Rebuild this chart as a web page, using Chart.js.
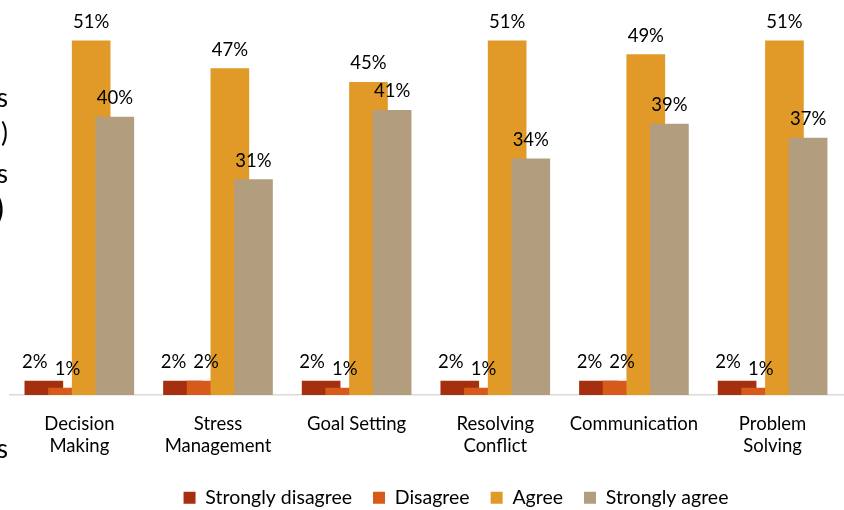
<!DOCTYPE html>
<html>
<head>
<meta charset="utf-8">
<script src="https://cdn.jsdelivr.net/npm/chart.js@4/dist/chart.umd.min.js"></script>
<style>
  html, body { margin: 0; padding: 0; background: #fff; }
  #wrap { width: 844px; height: 510px; }
</style>
</head>
<body>
<div id="wrap"><canvas id="skillsChart"></canvas></div>
<script>
const categories = [
  ["Decision", "Making"],
  ["Stress", "Management"],
  ["Goal Setting"],
  ["Resolving", "Conflict"],
  ["Communication"],
  ["Problem", "Solving"]
]
const seriesNames = ["Strongly disagree", "Disagree", "Agree", "Strongly agree"]
const stronglyDisagree = [2, 2, 2, 2, 2, 2]
const disagree = [1, 2, 1, 1, 2, 1]
const agree = [51, 47, 45, 51, 49, 51]
const stronglyAgree = [40, 31, 41, 34, 39, 37]

const colors = ["#a5300f", "#d65a19", "#e19a28", "#b29d7e"]
// bars overlap inside each group, so they sit on a linear axis with a fixed shift
const shifts = [-0.256, -0.0855, 0.0855, 0.256]
const labelShift = [-9, 0, 0, 0]
const FONT = "Lato, 'Open Sans', sans-serif"

const seriesValues = [stronglyDisagree, disagree, agree, stronglyAgree]

const datasets = seriesValues.map((values, k) => ({
  label: seriesNames[k],
  data: values.map((v, i) => ({ x: i + shifts[k], y: v })),
  backgroundColor: colors[k],
  borderWidth: 0,
  barThickness: 38,
  grouped: false,
  // later series are painted over the earlier ones
  order: seriesValues.length - k
}))

// percentage above each bar
const valueLabels = {
  id: "valueLabels",
  afterDatasetsDraw(chart) {
    const ctx = chart.ctx
    ctx.save()
    ctx.font = "18.5px " + FONT
    ctx.fillStyle = "#000"
    ctx.textAlign = "center"
    ctx.textBaseline = "alphabetic"
    chart.data.datasets.forEach((ds, k) => {
      chart.getDatasetMeta(k).data.forEach((bar, i) => {
        ctx.fillText(seriesValues[k][i] + "%", bar.x + labelShift[k], bar.y - 13)
      })
    })
    ctx.restore()
  }
}

// text running in from the left margin
const edgeText = {
  id: "edgeText",
  afterDraw(chart) {
    const ctx = chart.ctx
    ctx.save()
    ctx.fillStyle = "#000"
    ctx.textAlign = "right"
    ctx.font = "26px " + FONT
    ctx.fillText("s", 8, 99)
    ctx.fillText(")", 8, 134)
    ctx.fillText("s", 8, 175)
    ctx.font = "32px " + FONT
    ctx.fillText(")", 4, 210)
    ctx.font = "26px " + FONT
    ctx.fillText("s", 8, 450)
    ctx.restore()
  }
}

// legend row sits a little right of centre
const legendShift = {
  id: "legendShift",
  afterUpdate(chart) {
    chart.legend.left += 29
    chart.legend.right += 29
  }
}

new Chart(document.getElementById("skillsChart"), {
  type: "bar",
  data: { datasets },
  plugins: [valueLabels, edgeText, legendShift],
  options: {
    responsive: true,
    maintainAspectRatio: false,
    animation: false,
    layout: { padding: { top: 13, left: 10, right: 0, bottom: 0 } },
    plugins: {
      legend: {
        position: "bottom",
        maxHeight: 43,
        labels: {
          boxWidth: 12,
          boxHeight: 12,
          padding: 21,
          color: "#000",
          font: { family: FONT, size: 19.5 },
          generateLabels: chart => Chart.defaults.plugins.legend.labels.generateLabels(chart)
            .sort((a, b) => a.datasetIndex - b.datasetIndex)
        }
      },
      tooltip: { enabled: false }
    },
    scales: {
      x: {
        type: "linear",
        offset: false,
        min: -0.5,
        max: 5.515,
        afterBuildTicks: axis => {
          axis.ticks = categories.map((c, i) => ({ value: i }))
        },
        afterFit: axis => {
          axis.height = 72
        },
        grid: { display: false, drawTicks: false },
        border: { display: true, color: "#d9d9d9", width: 1.5 },
        ticks: {
          padding: 18,
          color: "#000",
          font: { family: FONT, size: 18.5, lineHeight: 1.2 },
          maxRotation: 0,
          autoSkip: false,
          callback: value => categories[value] || ""
        }
      },
      y: {
        display: false,
        min: 0,
        max: 55
      }
    }
  }
})
</script>
</body>
</html>
